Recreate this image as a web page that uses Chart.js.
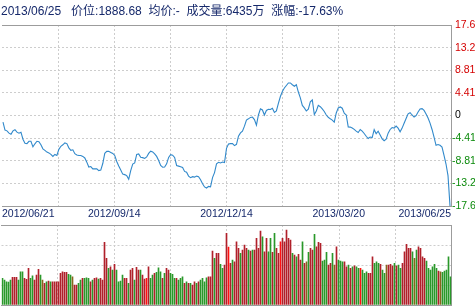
<!DOCTYPE html>
<html><head><meta charset="utf-8">
<script src="https://cdn.jsdelivr.net/npm/chart.js@4/dist/chart.umd.min.js"></script>
<style>
html,body{margin:0;padding:0;background:#fff;overflow:hidden}
#wrap{position:relative;width:475px;height:307px;background:#fff}
#c1{position:absolute;left:0;top:0}
#c2{position:absolute;left:0;top:220px}
</style></head><body>
<div id="wrap">
<canvas id="c1" width="475" height="222"></canvas>
<canvas id="c2" width="475" height="87"></canvas>
</div>
<script>
// ---- header values ----
const lastDate = '2013/06/25';
const lastPrice = '1888.68';
const avgPrice = '-';
const lastVolume = '6435万';
const lastChange = '-17.63%';

// ---- x-axis date labels (every other vertical grid line) ----
const dateLabels = ['2012/06/21', '2012/09/14', '2012/12/14', '2013/03/20', '2013/06/25'];

// ---- y-axis tick values (percent change) ----
const pctTicks = [17.63, 13.22, 8.81, 4.41, 0, -4.41, -8.81, -13.22, -17.63];

// ---- daily percent change vs. reference price ----
const pctChange = [
-1.28,-2.85,-2.99,-3.44,-3.64,-2.99,-2.76,-3.25,-3.44,-3.25,-4.63,-5.41,-5.47,-5.02,-5.02,
-6.10,-5.51,-5.02,-5.12,-5.71,-6.50,-6.79,-7.13,-7.28,-7.58,-7.97,-7.58,-7.78,-6.59,-6.00,
-5.71,-5.35,-5.47,-6.30,-6.79,-6.69,-7.44,-7.68,-7.78,-7.78,-7.97,-8.27,-9.09,-10.04,-9.94,
-10.39,-10.39,-10.39,-10.73,-10.63,-9.35,-7.38,-6.99,-6.99,-7.19,-7.38,-7.78,-8.96,-9.84,-10.63,
-11.42,-11.52,-11.71,-12.40,-10.73,-9.45,-9.25,-7.58,-7.48,-8.13,-8.21,-8.37,-8.07,-7.38,-6.95,
-7.09,-7.48,-7.97,-8.76,-9.74,-10.08,-10.04,-9.41,-8.17,-7.64,-7.72,-8.17,-9.74,-9.86,-9.98,
-10.14,-10.89,-11.06,-11.81,-12.11,-11.91,-12.01,-11.81,-11.91,-12.50,-13.29,-13.92,-14.13,-13.80,-13.88,
-12.11,-11.12,-9.41,-9.11,-9.25,-9.06,-9.15,-6.40,-5.57,-5.47,-5.47,-5.87,-5.61,-4.04,-3.39,
-3.05,-2.07,-0.89,-0.65,-0.37,-0.30,-0.79,-1.87,0.10,1.32,1.08,0.10,0.98,1.22,1.18,
1.42,0.59,0.89,2.36,3.70,4.67,5.35,5.85,6.34,6.34,6.00,5.71,6.00,4.57,3.44,
1.97,1.48,0.89,1.22,2.66,3.05,0.20,0.89,1.97,1.71,1.28,0.79,0.10,-0.35,-0.65,
-0.89,-1.28,0.49,1.48,1.67,1.42,0.43,0.10,-2.22,-2.26,-2.44,-2.70,-3.05,-3.31,-2.72,
-3.05,-3.50,-4.04,-4.49,-4.19,-4.29,-2.76,-3.54,-3.05,-3.80,-4.55,-4.92,-4.63,-3.44,-2.72,
-2.34,-2.46,-2.07,-2.46,-3.19,-2.46,-1.52,-0.59,0.33,0.55,0.10,-0.30,-0.04,0.69,1.28,
1.34,0.98,0.30,-0.49,-1.48,-2.72,-4.23,-5.81,-5.65,-5.81,-6.14,-7.78,-9.45,-11.71,-17.63
];

// ---- daily volume (万) ----
const volume = [
6060,5680,5290,5200,5680,6290,6290,6290,5680,7560,7560,6060,5830,8330,6060,
6650,5680,6810,8100,6810,5680,4930,5290,5450,5290,5290,5290,5290,5290,7200,
7560,7420,7420,6970,6810,6420,4540,4540,4930,5680,6060,6060,6200,6060,5290,
5680,6060,6200,5900,6060,5680,14230,10600,8330,8690,7950,9240,7950,5290,5450,
6810,6060,6060,4930,7950,8330,5680,8560,7950,7950,6810,5900,6060,8690,6060,
6810,7200,7420,8470,7560,6060,7200,8330,7950,7200,6970,6060,6060,5680,6060,
6420,4930,5290,4930,4930,4540,5290,4930,5290,5680,6060,5290,6200,6420,6420,
12260,10600,11740,11740,9240,8330,9080,16280,13170,9470,10220,9830,14370,12870,11740,
12490,13620,12870,12490,12260,12490,12490,15140,12870,16800,15500,12100,15140,12100,15140,
11960,16280,12870,11740,14370,15140,14370,17030,15140,14760,11740,11350,10960,11510,10220,
14370,9470,9830,11960,12870,12490,16050,13230,14230,14010,9990,10220,11960,9080,9470,
11740,9080,13230,10220,9990,9830,9830,8690,9080,8330,8690,8920,8690,8330,8330,
7950,7200,7560,7200,7200,10960,9470,9830,9470,9240,7950,7200,9080,9080,9240,
8920,9470,8920,9080,8330,9470,12100,13780,12870,12870,12100,10600,12490,13230,12870,
10960,10600,9990,8330,7950,8690,9240,8330,7720,7560,7420,7720,7950,10960,6435
];

// ---- day direction: u = up, U = strong up, d = down, f = flat ----
const direction = (
'ddddduuuddduuud' + 'duuudfududuuuuu' + 'uuuddfuuddudddu' + 'duuduuuudududdd' +
'duuduuduuduuUud' + 'duddduduudddudd' + 'dududuududddduu' + 'uduudduuUuduuud' +
'uuududuuuuduudd' + 'uduuUuuuuududuu' + 'dufduuduuuddduu' + 'dfuddduudududdU' +
'ddduuuddduddfuu' + 'ududduuuuudfduu' + 'uuddddddufddddd'
).split('');

const volumeMax = 18200;

// ---------------- drawing ----------------
const FONT = "Arial, 'Liberation Sans', 'Noto Sans CJK SC', sans-serif";
const NAVY = '#16296b';
const GRID = '#cdcdcd';
const FRAME = '#9c9c9c';
const N = pctChange.length;
const barColors = {u:'#b0202a', U:'#ff1010', d:'#2a982a', f:'#86661c'};

const vGrid = s => { s.ticks = Array.from({length: 9}, (_, k) => ({value: k * N / 8})); };
const vGridColor = ctx => (ctx.index === 0 ? 'rgba(0,0,0,0)' : GRID);

const titleText = lastDate + '   价位:' + lastPrice + '  均价:' + avgPrice + '  成交量:' + lastVolume + '  涨幅:' + lastChange;

new Chart(document.getElementById('c1'), {
  type: 'line',
  data: {datasets: [{
    data: pctChange.map((v, i) => ({x: i + 0.5, y: v})),
    borderColor: '#3189cb', borderWidth: 1.1, pointRadius: 0, tension: 0, fill: false
  }]},
  options: {
    responsive: false, animation: false, devicePixelRatio: 1,
    layout: {padding: {left: 1, right: 0, top: 0, bottom: 0}},
    plugins: {
      legend: {display: false}, tooltip: {enabled: false},
      title: {display: true, text: titleText, align: 'start', color: NAVY,
        font: {family: FONT, size: 12, weight: 'normal'}, padding: {top: 4, bottom: 6.6}}
    },
    scales: {
      x: {type: 'linear', min: 0, max: N, position: 'bottom', offset: false,
        afterBuildTicks: vGrid, afterFit: s => { s.height = 16; },
        grid: {color: vGridColor, drawTicks: false, offset: false},
        border: {color: FRAME, dash: [2, 2]},
        ticks: {align: 'inner', padding: 2, color: NAVY, font: {family: FONT, size: 10.5},
          maxRotation: 0, autoSkip: false,
          callback: (v, i) => (i % 2 === 0 ? dateLabels[i / 2] : '')}
      },
      xTop: {axis: 'x', type: 'linear', min: 0, max: N, position: 'top', offset: false,
        grid: {display: false}, ticks: {display: false},
        border: {display: true, color: FRAME}, afterFit: s => { s.height = 0; }},
      y: {position: 'right', min: -17.63, max: 17.63,
        afterBuildTicks: s => { s.ticks = pctTicks.map(v => ({value: v})); },
        afterFit: s => { s.width = 24; },
        grid: {color: GRID, drawTicks: false},
        border: {color: FRAME, dash: [2, 2]},
        ticks: {padding: 1, font: {family: FONT, size: 10.5},
          color: ctx => (ctx.tick.value > 0.01 ? '#d40000' : (ctx.tick.value < -0.01 ? '#0b8a0b' : '#000000')),
          callback: v => {
            const a = Math.abs(v);
            if (a < 0.01) return ' 0';
            const s = a >= 10 ? a.toFixed(1) : a.toFixed(2);
            return (v < 0 ? '-' : ' ') + s;
          }}
      }
    }
  }
});

new Chart(document.getElementById('c2'), {
  type: 'bar',
  data: {datasets: [{
    data: volume.map((v, i) => ({x: i + 0.5, y: v})),
    backgroundColor: direction.map(d => barColors[d]),
    barThickness: 1, borderWidth: 0, grouped: false
  }]},
  options: {
    responsive: false, animation: false, devicePixelRatio: 1,
    layout: {padding: {left: 1.5, right: 0, top: 5, bottom: 0}},
    plugins: {legend: {display: false}, tooltip: {enabled: false}},
    scales: {
      x: {type: 'linear', min: 0, max: N, position: 'bottom', offset: false,
        afterBuildTicks: vGrid, afterFit: s => { s.height = 2; },
        grid: {color: vGridColor, drawTicks: false, offset: false},
        border: {color: FRAME, dash: [2, 2]},
        ticks: {display: false}},
      xTop: {axis: 'x', type: 'linear', min: 0, max: N, position: 'top', offset: false,
        grid: {display: false, offset: false}, ticks: {display: false},
        border: {display: true, color: FRAME}, afterFit: s => { s.height = 0; }},
      y: {position: 'right', min: 0, max: volumeMax,
        afterBuildTicks: s => { s.ticks = [0, 1, 2, 3, 4].map(k => ({value: k * volumeMax / 4})); },
        afterFit: s => { s.width = 23.5; },
        grid: {color: GRID, drawTicks: false},
        border: {color: FRAME, dash: [2, 2]},
        ticks: {display: false}}
    }
  }
});
</script>
</body></html>
